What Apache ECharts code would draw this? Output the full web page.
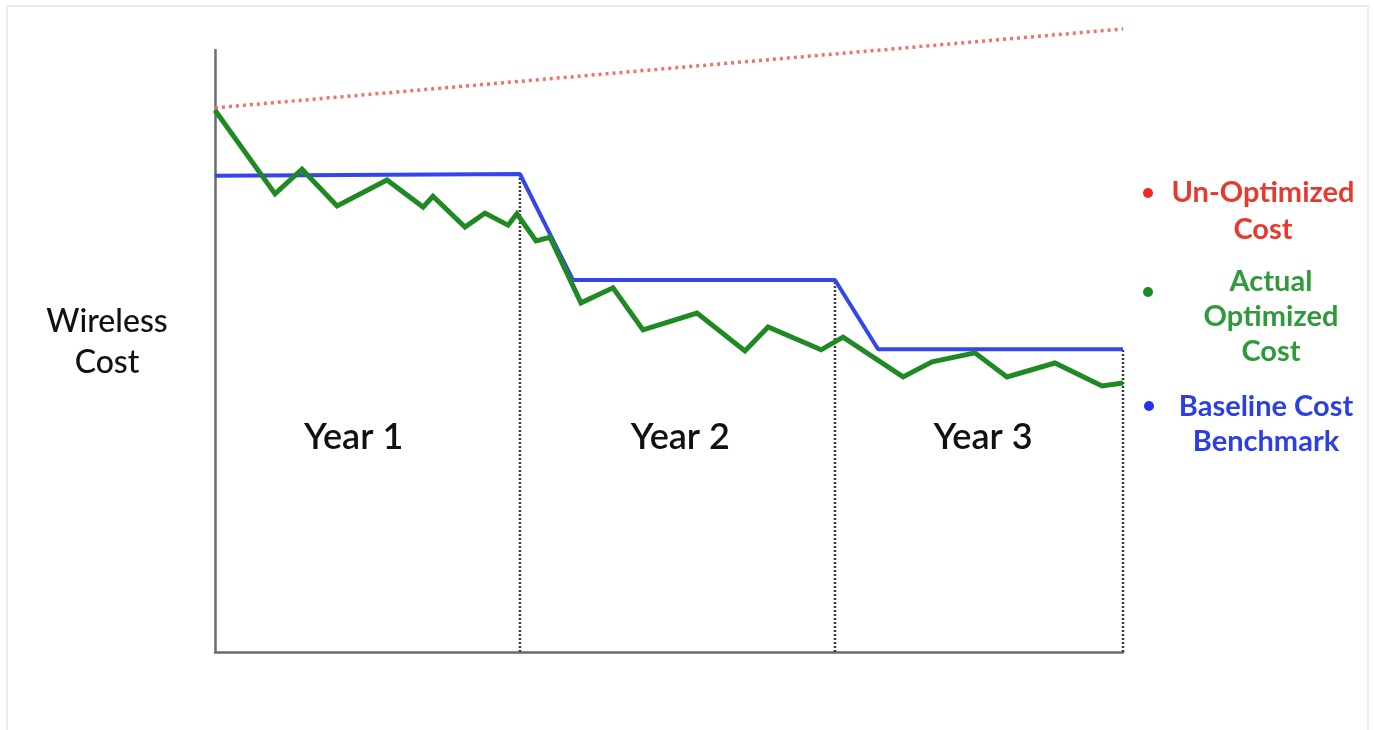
<!DOCTYPE html>
<html>
<head>
<meta charset="utf-8">
<script src="https://cdn.jsdelivr.net/npm/echarts@6/dist/echarts.min.js"></script>
<style>
html,body{margin:0;padding:0;background:#fff;}
#chart{width:1374px;height:730px;}
</style>
</head>
<body>
<div id="chart"></div>
<script>
// Time axis: months 0..36 (boundaries between years)
var yearBoundaries = [12.09, 24.58, 36];
var yearLabels = ['Year 1', 'Year 2', 'Year 3'];
var yearLabelX = [5.5, 18.45, 30.45];
var yearLabelY = 35.7;

// Un-Optimized cost (dotted red) [month, cost]
var unOptimized = [[0, 90.4], [36, 103.5]];

// Actual optimized cost (green) [month, cost]
var actualOptimized = [
  [0, 90.0], [2.38, 76.1], [3.45, 80.2], [4.84, 74.1], [6.82, 78.4],
  [8.25, 73.9], [8.64, 75.7], [9.91, 70.6], [10.70, 72.9], [11.62, 70.9],
  [11.97, 72.8], [12.73, 68.3], [13.28, 68.9], [14.51, 58.0], [15.78, 60.5],
  [16.97, 53.5], [19.11, 56.3], [21.01, 50.0], [21.93, 54.0], [24.03, 50.2],
  [24.90, 52.3], [27.28, 45.7], [28.43, 48.2], [30.13, 49.7], [31.40, 45.7],
  [33.30, 48.0], [35.17, 44.2], [36, 44.7]
];

// Baseline cost benchmark (blue) [month, cost]
var baseline = [
  [0, 79.1], [12.09, 79.4], [14.19, 61.8], [24.58, 61.8], [26.29, 50.3], [36, 50.3]
];

// Baseline level at each year boundary (top of the dotted dividers)
var boundaryTops = [79.4, 61.8, 50.3];

var yTitle = 'Wireless\nCost';

var FONT = 'Lato';

var chart = echarts.init(document.getElementById('chart'));

var dividerSeries = yearBoundaries.map(function (b, i) {
  return {
    type: 'line',
    name: 'divider' + i,
    data: [[b, 0], [b, boundaryTops[i]]],
    symbol: 'none',
    silent: true,
    z: 1,
    lineStyle: { color: '#3a3a3a', width: 2.5, type: [2, 2] }
  };
});

var option = {
  animation: false,
  backgroundColor: '#fff',
  grid: { left: 215, right: 251, top: 50, bottom: 78, containLabel: false },
  xAxis: {
    type: 'value', min: 0, max: 36,
    axisLine: { show: true, lineStyle: { color: '#6b6b6b', width: 2.5 } },
    axisTick: { show: false },
    axisLabel: { show: false },
    splitLine: { show: false }
  },
  yAxis: {
    type: 'value', min: 0, max: 100,
    axisLine: { show: true, lineStyle: { color: '#6b6b6b', width: 2.5 } },
    axisTick: { show: false },
    axisLabel: { show: false },
    splitLine: { show: false }
  },
  graphic: [
    {
      type: 'rect', shape: { x: 7, y: 6, width: 1361, height: 740 },
      style: { fill: 'none', stroke: '#ececec', lineWidth: 2 }, silent: true, z: -10
    },
    {
      type: 'text', x: 107, y: 342,
      style: {
        text: yTitle, fill: '#111', font: '500 32px ' + FONT,
        align: 'center', verticalAlign: 'middle', lineHeight: 41
      }
    },
    { type: 'circle', shape: { cx: 1148, cy: 193, r: 5 }, style: { fill: '#ee2a22' } },
    {
      type: 'text', x: 1263, y: 211,
      style: {
        text: 'Un-Optimized\nCost', fill: '#e8392f', font: 'bold 29px ' + FONT,
        align: 'center', verticalAlign: 'middle', lineHeight: 37
      }
    },
    { type: 'circle', shape: { cx: 1148, cy: 292, r: 5 }, style: { fill: '#1e8a26' } },
    {
      type: 'text', x: 1271, y: 317,
      style: {
        text: 'Actual\nOptimized\nCost', fill: '#2f9a3c', font: 'bold 29px ' + FONT,
        align: 'center', verticalAlign: 'middle', lineHeight: 35
      }
    },
    { type: 'circle', shape: { cx: 1149, cy: 406, r: 5 }, style: { fill: '#1f33f0' } },
    {
      type: 'text', x: 1266, y: 424,
      style: {
        text: 'Baseline Cost\nBenchmark', fill: '#2c3fe6', font: 'bold 29px ' + FONT,
        align: 'center', verticalAlign: 'middle', lineHeight: 35
      }
    }
  ],
  series: dividerSeries.concat([
    {
      type: 'line', name: 'Un-Optimized Cost',
      data: unOptimized, symbol: 'none', clip: false, z: 3,
      lineStyle: { color: '#f2716b', width: 3.5, type: [3, 4] }
    },
    {
      type: 'line', name: 'Baseline Cost Benchmark',
      data: baseline, symbol: 'none', z: 4,
      lineStyle: { color: '#3346ee', width: 4 }
    },
    {
      type: 'line', name: 'Actual Optimized Cost',
      data: actualOptimized, symbol: 'none', z: 5,
      lineStyle: { color: '#1f8a24', width: 5, join: 'miter' }
    },
    {
      type: 'scatter', name: 'Years',
      data: yearLabelX.map(function (x, i) { return { value: [x, yearLabelY], name: yearLabels[i] }; }),
      symbolSize: 0, silent: true, z: 6,
      itemStyle: { color: '#000', opacity: 1 },
      label: {
        show: true, position: 'inside', formatter: function (p) { return p.name; },
        fontFamily: FONT, fontSize: 36, fontWeight: 600, color: '#111', opacity: 1,
        textBorderWidth: 0
      }
    }
  ])
};
chart.setOption(option);
</script>
</body>
</html>
